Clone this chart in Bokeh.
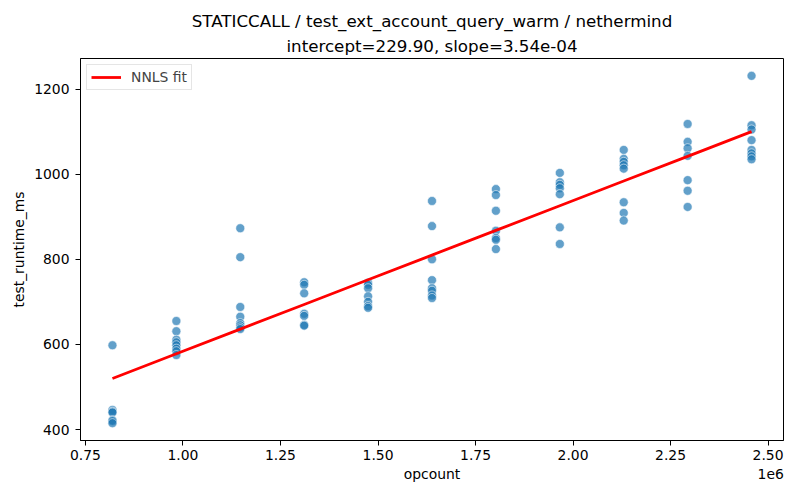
from bokeh.plotting import figure
from bokeh.models import (Range1d, FixedTicker, CustomJSTickFormatter, Title, LinearAxis,
                          Legend, LegendItem, ColumnDataSource)
from bokeh.embed import file_html
from bokeh.resources import INLINE

# ---------------- data ----------------
opcount = (
    [819200] * 7 + [983040] * 8 + [1146880] * 8 + [1310720] * 7 + [1474560] * 7 +
    [1638400] * 8 + [1802240] * 7 + [1966080] * 7 + [2129920] * 8 + [2293760] * 7 +
    [2457600] * 8
)
runtime_ms = (
    [598, 446, 442, 440, 422, 420, 415] +
    [655, 631, 611, 605, 598, 590, 584, 575] +
    [873, 805, 688, 665, 650, 645, 640, 636] +
    [746, 740, 720, 672, 667, 646, 644] +
    [745, 740, 732, 713, 700, 690, 686] +
    [937, 878, 800, 751, 732, 726, 715, 709] +
    [965, 951, 914, 867, 850, 846, 824] +
    [1003, 981, 975, 967, 953, 875, 836] +
    [1057, 1036, 1029, 1021, 1013, 934, 909, 891] +
    [1118, 1076, 1061, 1043, 986, 961, 923] +
    [1231, 1115, 1105, 1080, 1057, 1049, 1042, 1035]
)
intercept = 229.90
slope = 3.54e-04
x_ticks = [750000, 1000000, 1250000, 1500000, 1750000, 2000000, 2250000, 2500000]
y_ticks = [400, 600, 800, 1000, 1200]
title_line1 = "STATICCALL / test_ext_account_query_warm / nethermind"
title_line2 = "intercept=229.90, slope=3.54e-04"

fit_x = sorted(set(opcount))
fit_y = [intercept + slope * v for v in fit_x]

# ---------------- ranges (matplotlib-like 5% margins) ----------------
xmin, xmax = min(opcount), max(opcount)
ymin, ymax = min(runtime_ms), max(runtime_ms)
xm = (xmax - xmin) * 0.05
ym = (ymax - ymin) * 0.05
x0, x1 = xmin - xm, xmax + xm

FONT = "DejaVu Sans"
FRAME_W = 703

p = figure(width=784, height=484, output_backend="svg", toolbar_location=None,
           x_range=Range1d(x0, x1), y_range=Range1d(ymin - ym, ymax + ym),
           min_border_left=80, min_border_right=1, min_border_top=58, min_border_bottom=43)
p.grid.visible = False
p.outline_line_color = "black"
p.outline_line_width = 1
p.background_fill_color = "white"
p.border_fill_color = "white"

src = ColumnDataSource(dict(x=opcount, y=runtime_ms))
p.scatter("x", "y", source=src, size=9, fill_color="#1f77b4", fill_alpha=0.7,
          line_color="white", line_width=0.8, line_alpha=0.7)

fit_r = p.line(fit_x, fit_y, line_color="red", line_width=2.8)


def style_axis(ax):
    ax.major_tick_in = 0
    ax.major_tick_out = 5
    ax.minor_tick_line_color = None
    ax.major_label_text_font = FONT
    ax.major_label_text_font_size = "13.9px"
    ax.major_label_text_color = "black"
    ax.axis_label_text_font = FONT
    ax.axis_label_text_font_size = "13.9px"
    ax.axis_label_text_font_style = "normal"
    ax.axis_label_text_color = "black"
    ax.axis_line_color = "black"
    ax.major_tick_line_color = "black"


style_axis(p.xaxis[0])
style_axis(p.yaxis[0])

p.xaxis.ticker = FixedTicker(ticks=x_ticks)
p.yaxis.ticker = FixedTicker(ticks=y_ticks)
p.xaxis.formatter = CustomJSTickFormatter(code="return (tick/1e6).toFixed(2);")
p.yaxis.axis_label = "test_runtime_ms"
p.xaxis.major_label_standoff = 4
p.yaxis.major_label_standoff = 6
p.yaxis.axis_label_standoff = 4

# second row below the x axis: axis label "opcount" (centred) and offset text "1e6" (right)
cx = (x0 + x1) / 2
per_px = (x1 - x0) / FRAME_W
rx = x1 - 12.8 * per_px
lab_axis = LinearAxis(ticker=FixedTicker(ticks=[cx, rx]),
                      formatter=CustomJSTickFormatter(
                          args=dict(cx=cx),
                          code="return Math.abs(tick - cx) < 1 ? 'opcount' : '1e6';"))
style_axis(lab_axis)
lab_axis.axis_line_color = None
lab_axis.major_tick_line_color = None
lab_axis.major_tick_out = 0
lab_axis.major_label_standoff = 3
p.add_layout(lab_axis, "below")

# titles
t2 = Title(text=title_line2, align="center", text_font=FONT, text_font_size="16.7px",
           text_font_style="normal", text_color="black", standoff=6)
t1 = Title(text=title_line1, align="center", text_font=FONT, text_font_size="16.7px",
           text_font_style="normal", text_color="black", standoff=0)
p.add_layout(t2, "above")
p.add_layout(t1, "above")

legend = Legend(items=[LegendItem(label="NNLS fit", renderers=[fit_r])],
                location="top_left", margin=6, padding=4, spacing=0,
                glyph_width=30, glyph_height=14, label_height=14, label_standoff=10,
                label_text_font=FONT, label_text_font_size="13.9px",
                border_line_color="#cccccc", border_line_width=1,
                background_fill_color="white", background_fill_alpha=0.8)
p.add_layout(legend, "center")

open("out.html", "w").write(file_html(p, INLINE))
